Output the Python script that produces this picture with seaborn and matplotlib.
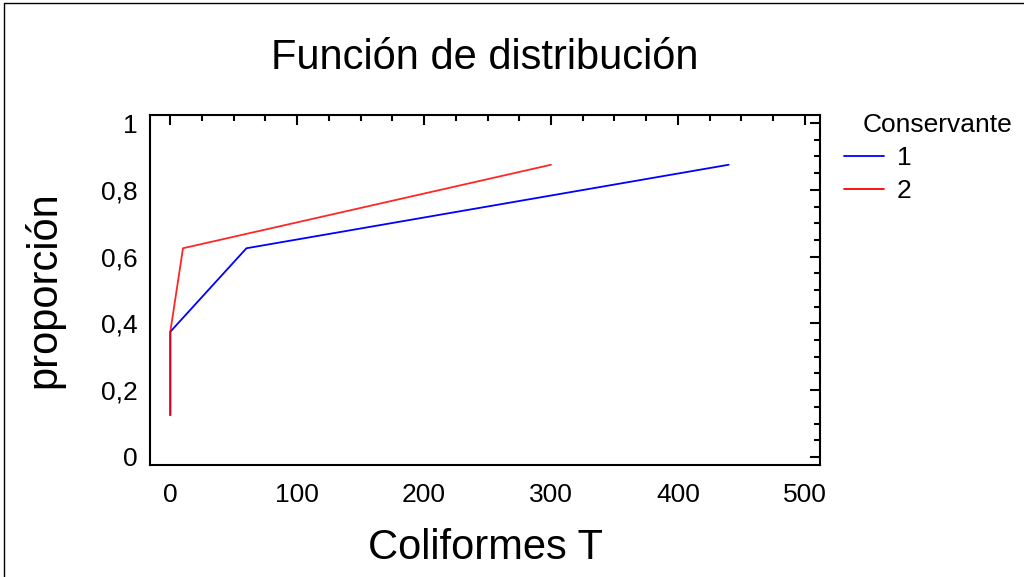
import matplotlib
matplotlib.use("Agg")
import matplotlib.pyplot as plt
import seaborn as sns
import pandas as pd
from matplotlib.ticker import MultipleLocator, FuncFormatter
from matplotlib.patches import Rectangle

# Data
x_cons1 = [0, 0, 60, 440]
y_cons1 = [0.125, 0.375, 0.625, 0.875]
x_cons2 = [0, 0, 10, 300]
y_cons2 = [0.125, 0.375, 0.625, 0.875]
groups = ["1", "2"]

df = pd.DataFrame({
    "Coliformes T": x_cons1 + x_cons2,
    "proporción": y_cons1 + y_cons2,
    "Conservante": [groups[0]] * len(x_cons1) + [groups[1]] * len(x_cons2),
})

sns.set_theme(style="white")
plt.rcParams["font.family"] = ["Liberation Sans", "DejaVu Sans"]
plt.rcParams["text.color"] = "black"
plt.rcParams["axes.labelcolor"] = "black"

fig = plt.figure(figsize=(10.24, 5.77), dpi=100)
ax = fig.add_axes([150/1024, 1 - 465/577, 670/1024, 350/577])

sns.lineplot(data=df, x="Coliformes T", y="proporción", hue="Conservante",
             estimator=None, sort=False,
             palette={"1": "#0000ff", "2": "#ff0000"}, linewidth=1.3, ax=ax)
ax.lines[0].set_zorder(2)
ax.lines[1].set_zorder(3)
ax.lines[1].set_alpha(0.85)

ax.set_xlim(-16, 512)
ax.set_ylim(-0.024, 1.024)
ax.xaxis.set_major_locator(MultipleLocator(100))
ax.xaxis.set_minor_locator(MultipleLocator(25))
ax.yaxis.set_major_locator(MultipleLocator(0.2))
ax.yaxis.set_minor_locator(MultipleLocator(0.05))

def fmt(v, pos):
    s = f"{v:.1f}".rstrip("0").rstrip(".")
    if s == "-0":
        s = "0"
    return s.replace(".", ",")
ax.yaxis.set_major_formatter(FuncFormatter(fmt))

ax.tick_params(which="both", direction="in", top=True, right=True, colors="black",
               labelsize=19, width=1.5)
ax.tick_params(which="major", length=7)
ax.tick_params(axis="x", which="major", pad=13)
ax.tick_params(axis="y", which="major", pad=9)
ax.tick_params(which="minor", length=4)
for s in ax.spines.values():
    s.set_color("black")
    s.set_linewidth(1.5)

ax.set_xlabel("Coliformes T", fontsize=30, labelpad=15)
ax.set_ylabel("proporción", fontsize=30, labelpad=26)
fig.text(485/1024, 1 - 58/577, "Función de distribución", fontsize=30,
         ha="center", va="center")

leg = ax.legend(title=None, loc="upper left", bbox_to_anchor=(1.036, 0.912),
                frameon=False, fontsize=19, handlelength=1.5,
                labelspacing=0.35, handletextpad=0.5, borderaxespad=0,
                borderpad=0)
fig.text(863/1024, 1 - 125/577, "Conservante", fontsize=19, ha="left", va="center")

fig.patches.append(Rectangle((4/1024, -0.1), 1.2, 1 - 3/577 + 0.1,
                             transform=fig.transFigure, fill=False,
                             edgecolor="black", linewidth=1.0))

fig.savefig("out.png", dpi=100)
